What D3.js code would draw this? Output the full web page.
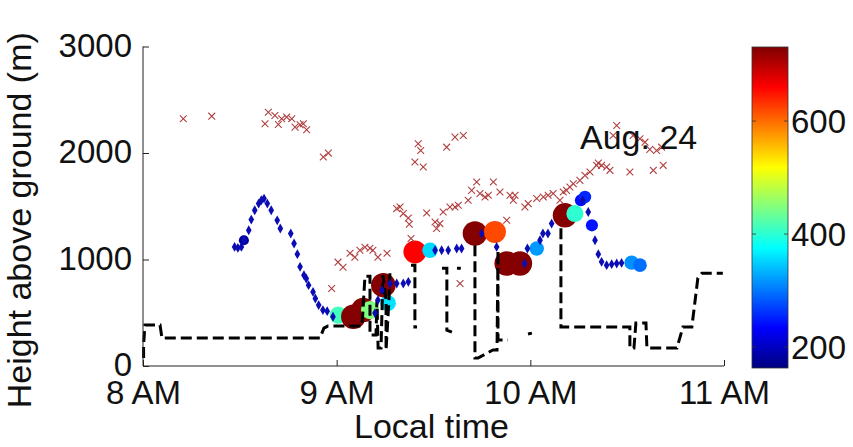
<!DOCTYPE html>
<html>
<head>
<meta charset="utf-8">
<script src="https://cdn.jsdelivr.net/npm/d3@7"></script>
<style>
  html, body { margin: 0; padding: 0; background: #fff; }
  svg { display: block; }
  text { font-family: "Liberation Sans", Arial, Helvetica, sans-serif; fill: #111; }
</style>
</head>
<body>
<svg id="chart" width="853" height="447"></svg>
<script>
// ---------------- data ----------------
const xTicks = [8, 9, 10, 11];
const xTickLabels = ["8 AM", "9 AM", "10 AM", "11 AM"];
const yTicks = [0, 1000, 2000, 3000];
const cbTicks = [200, 400, 600];
const xLabel = "Local time";
const yLabel = "Height above ground (m)";
const dateLabel = "Aug. 24";
const colorDomain = [163, 731];

// red x markers (time in hours, height in m)
const crossTime = [8.208, 8.355, 8.630, 8.647, 8.681, 8.699, 8.716, 8.742, 8.768, 8.785, 8.811, 8.828, 8.845,
  8.931, 8.957, 8.974, 9.007, 9.033, 9.069, 9.094, 9.120, 9.146, 9.172, 9.187, 9.213, 9.260,
  9.310, 9.344, 9.370, 9.375, 9.465, 9.384, 9.421, 9.434, 9.404, 9.447, 9.508, 9.533, 9.568, 9.611,
  9.654, 9.637, 9.878, 9.327, 9.516, 9.550, 9.585, 9.611, 9.628, 9.679, 9.697, 9.723, 9.740, 9.766,
  9.783, 9.809, 9.843, 9.895, 9.921, 9.912, 9.972, 9.989, 10.033, 10.067, 10.092, 10.118, 10.153,
  10.170, 10.187, 10.204, 10.222, 10.256, 10.282, 10.308, 10.342, 10.351, 10.368, 10.394, 10.411,
  10.446, 10.428, 10.531, 10.566, 10.592, 10.617, 10.652, 10.678, 10.514, 10.635, 10.686];
const crossHeight = [2321, 2346, 2275, 2383, 2352, 2268, 2321, 2337, 2321, 2243, 2265, 2275, 2218,
  1962, 1999, 728, 975, 928, 1059, 1022, 1087, 1115, 1106, 1087, 1022, 1059,
  1478, 1431, 1390, 1331, 1437, 1197, 2087, 2024, 1915, 1868, 1352, 1337, 2055, 2149,
  2165, 775, 1368, 1493, 1291, 1446, 1493, 1493, 1509, 1556, 1649, 1727, 1619, 1587,
  1603, 1727, 1634, 1603, 1603, 1556, 1493, 1525, 1572, 1587, 1603, 1619, 1556,
  1634, 1649, 1680, 1712, 1743, 1790, 1821, 1884, 1905, 1884, 1868, 1837,
  2259, 2165, 2165, 2134, 2102, 2034, 2024, 2055, 1821, 1837, 1884];

// blue diamond trajectory
const traceTime = [8.473, 8.490, 8.508, 8.521, 8.546, 8.559, 8.577, 8.597, 8.611, 8.625, 8.642, 8.662,
  8.693, 8.709, 8.763, 8.780, 8.797, 8.811, 8.831, 8.843, 8.855, 8.878, 8.890, 8.907, 8.929, 8.951, 8.981,
  9.198, 9.213, 9.234, 9.275, 9.310, 9.344, 9.370, 9.508, 9.542, 9.576, 9.620, 9.645, 9.749, 9.826,
  9.970, 9.985, 10.050, 10.065, 10.091, 10.110, 10.270, 10.299, 10.334, 10.351, 10.368, 10.394,
  10.420, 10.446, 10.471];
const traceHeight = [1118, 1109, 1118, 1181, 1275, 1375, 1462, 1525, 1556, 1572, 1525, 1462,
  1368, 1291, 1244, 1150, 1050, 931, 853, 822, 759, 696, 634, 572, 525, 515, 462,
  497, 619, 712, 775, 775, 775, 790, 1087, 1087, 1087, 1103, 1103, 1244, 1118,
  962, 1103, 1181, 1244, 1244, 1337, 1556, 1446, 1181, 1050, 978, 947,
  956, 962, 968];

// coloured circles (value shown by colour bar)
const circleTime = [8.521, 9.008, 9.086, 9.137, 9.172, 9.265, 9.241, 9.404, 9.482, 9.714, 9.817,
  9.878, 9.946, 10.033, 10.179, 10.230, 10.261, 10.282, 10.318, 10.523, 10.566];
const circleHeight = [1181, 478, 462, 525, 525, 590, 759, 1071, 1087, 1244, 1259,
  962, 962, 1103, 1415, 1431, 1556, 1587, 1321, 970, 947];
const circleValue = [180, 413, 728, 728, 447, 360, 728, 660, 355, 728, 620,
  728, 728, 320, 728, 402, 240, 255, 245, 315, 295];

// black dashed step line (null = gap)
const mlTime = [8.003, 8.003, 8.010, 8.088, 8.098, 8.914, 8.934, 8.955, 9.131, 9.146, 9.172, 9.172,
  9.203, 9.208, 9.214, 9.229, 9.239, 9.255, 9.255, 9.270, 9.275, 9.291, null,
  9.384, 9.404, 9.404, 9.415, null,
  9.544, 9.569, 9.569, 9.595, null,
  9.621, 9.641, null,
  9.714, 9.714, 9.730, 9.807, 9.828, 9.833, 9.833, 9.884, null,
  9.988, 10.008, null,
  10.158, 10.158, 10.514, 10.514, 10.535, 10.545, 10.597, 10.602, 10.757, 10.788, 10.834, 10.865,
  10.886, 10.994];
const mlHeight = [75, 197, 384, 384, 262, 262, 356, 375, 375, 843, 843, 291,
  291, 619, 169, 169, 853, 619, 150, 619, 872, 872, null,
  947, 947, 366, 366, null,
  918, 918, 337, 319, null,
  918, 918, null,
  1134, 75, 75, 150, 150, 1087, 244, 244, null,
  300, 309, null,
  1293, 366, 366, 169, 169, 403, 403, 169, 169, 366, 366, 825,
  872, 872];

// ---------------- drawing ----------------
const svg = d3.select("#chart");
const FONT = 33;

const x = d3.scaleLinear().domain([8, 11]).range([143, 724]);
const y = d3.scaleLinear().domain([0, 3000]).range([366, 46.5]);
const cb = d3.scaleLinear().domain(colorDomain).range([368, 47]);

function jet(f) {
  const c = v => Math.max(0, Math.min(1, v));
  const r = c(1.5 - Math.abs(4 * f - 3));
  const g = c(1.5 - Math.abs(4 * f - 2));
  const b = c(1.5 - Math.abs(4 * f - 1));
  return d3.rgb(r * 255, g * 255, b * 255).formatHex();
}
const colorFrac = d3.scaleLinear().domain(colorDomain).range([0, 1]).clamp(true);
const color = v => jet(colorFrac(v));
const radius = d3.scaleLinear().domain([163, 400, 731]).range([4.8, 8.5, 12.3]).clamp(true);

const plot = svg.append("g");

// circles
const circles = circleTime.map((t, i) => ({t, h: circleHeight[i], v: circleValue[i]}));
plot.append("g").selectAll("circle").data(circles).join("circle")
  .attr("cx", d => x(d.t)).attr("cy", d => y(d.h))
  .attr("r", d => radius(d.v))
  .attr("fill", d => color(d.v));

// black dashed line
const ml = mlTime.map((t, i) => ({t, h: mlHeight[i]}));
plot.append("path")
  .attr("d", d3.line().defined(d => d.t !== null && d.h !== null).x(d => x(d.t)).y(d => y(d.h))(ml))
  .attr("fill", "none").attr("stroke", "#000").attr("stroke-width", 3)
  .attr("stroke-dasharray", "11,5");

// blue diamonds
const trace = traceTime.map((t, i) => ({t, h: traceHeight[i]}));
plot.append("g").selectAll("path").data(trace).join("path")
  .attr("d", d3.symbol(d3.symbolDiamond, 28)())
  .attr("transform", d => `translate(${x(d.t)},${y(d.h)})`)
  .attr("fill", "#0c0cb4");

// red crosses
const crosses = crossTime.map((t, i) => ({t, h: crossHeight[i]}));
const cs = 3.4;
plot.append("g").selectAll("path").data(crosses).join("path")
  .attr("d", d => {
    const cx = x(d.t), cy = y(d.h);
    return `M${cx - cs},${cy - cs}L${cx + cs},${cy + cs}M${cx - cs},${cy + cs}L${cx + cs},${cy - cs}`;
  })
  .attr("stroke", "#b04040").attr("stroke-width", 1.1).attr("fill", "none");

// axes
const axCol = "#222";
const axes = svg.append("g");
const xAxis = d3.axisBottom(x).tickValues(xTicks).tickSize(-6).tickFormat((d, i) => xTickLabels[i]);
const gx = axes.append("g").attr("transform", `translate(0,${y(0)})`).call(xAxis);
gx.select(".domain").attr("d", `M${x(8)},0H${x(11)}`).attr("stroke", axCol);
gx.selectAll(".tick line").attr("stroke", axCol);
gx.selectAll(".tick text").attr("font-size", FONT).attr("y", 0).attr("dy", 0)
  .attr("transform", "translate(0,38)").attr("fill", "#111")
  .style("font-family", '"Liberation Sans", Arial, sans-serif');

const yAxis = d3.axisLeft(y).tickValues(yTicks).tickSize(-6).tickFormat(d3.format("d"));
const gy = axes.append("g").attr("transform", `translate(${x(8)},0)`).call(yAxis);
gy.select(".domain").attr("d", `M0,${y(0)}V${y(3000)}`).attr("stroke", axCol);
gy.selectAll(".tick line").attr("stroke", axCol);
gy.selectAll(".tick text").attr("font-size", FONT).attr("x", -11).attr("dy", "0.3em")
  .attr("fill", "#111").style("font-family", '"Liberation Sans", Arial, sans-serif');

// axis labels
svg.append("text").attr("x", (x(8) + x(11)) / 2 - 2).attr("y", 438)
  .attr("text-anchor", "middle").attr("font-size", FONT + 1).text(xLabel);
svg.append("text").attr("transform", `translate(31,${(y(0) + y(3000)) / 2 + 14}) rotate(-90)`)
  .attr("text-anchor", "middle").attr("font-size", FONT + 1).text(yLabel);

// date annotation
svg.append("text").attr("x", 580).attr("y", 149).attr("font-size", FONT + 1).text(dateLabel);

// colour bar
const cbX = 752, cbW = 36;
const defs = svg.append("defs");
const grad = defs.append("linearGradient").attr("id", "jetGrad")
  .attr("x1", 0).attr("y1", 1).attr("x2", 0).attr("y2", 0);
d3.range(0, 65).forEach(i => {
  grad.append("stop").attr("offset", i / 64).attr("stop-color", jet(i / 64));
});
const cbG = svg.append("g");
cbG.append("rect").attr("x", cbX).attr("y", cb(colorDomain[1]))
  .attr("width", cbW).attr("height", cb(colorDomain[0]) - cb(colorDomain[1]))
  .attr("fill", "url(#jetGrad)").attr("stroke", "#333").attr("stroke-width", 0.8);
const cbAxis = d3.axisRight(cb).tickValues(cbTicks).tickSize(0).tickFormat(d3.format("d"));
const gcb = cbG.append("g").attr("transform", `translate(${cbX + cbW},0)`).call(cbAxis);
gcb.select(".domain").remove();
gcb.selectAll(".tick text").attr("font-size", FONT).attr("x", 3).attr("dy", "0.36em")
  .attr("fill", "#111").style("font-family", '"Liberation Sans", Arial, sans-serif');
cbG.selectAll("line.cbt").data(cbTicks).join("line").attr("class", "cbt")
  .attr("x1", cbX).attr("x2", cbX + 4).attr("y1", d => cb(d)).attr("y2", d => cb(d))
  .attr("stroke", "#333").attr("stroke-width", 0.8);
cbG.selectAll("line.cbt2").data(cbTicks).join("line").attr("class", "cbt2")
  .attr("x1", cbX + cbW - 4).attr("x2", cbX + cbW).attr("y1", d => cb(d)).attr("y2", d => cb(d))
  .attr("stroke", "#333").attr("stroke-width", 0.8);
</script>
</body>
</html>
